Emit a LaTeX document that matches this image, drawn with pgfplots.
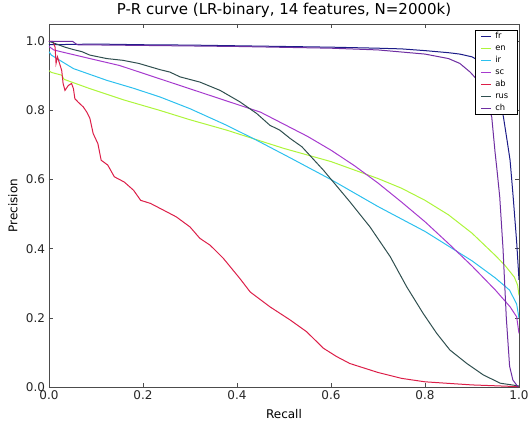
\documentclass[border=0pt]{standalone}
\usepackage{pgfplots}
\pgfplotsset{compat=1.18}
\usepackage{fontspec}
\setmainfont{DejaVu Sans}
\definecolor{cfr}{HTML}{1C1C88}
\definecolor{cen}{HTML}{ADF53A}
\definecolor{cir}{HTML}{2CC0EE}
\definecolor{csc}{HTML}{A63ACE}
\definecolor{cab}{HTML}{DC1E48}
\definecolor{crus}{HTML}{2F4F4F}
\definecolor{cch}{HTML}{6E2EA2}
\begin{document}
\begin{tikzpicture}
\useasboundingbox (-49pt,-37pt) rectangle (482pt,387pt);
\begin{axis}[
  at={(0pt,0pt)}, anchor=south west,
  scale only axis, width=470pt, height=363pt,
  xmin=0, xmax=1, ymin=0, ymax=1.05,
  xtick={0,0.2,0.4,0.6,0.8,1.0},
  ytick={0,0.2,0.4,0.6,0.8,1.0},
  tick align=inside, major tick length=4pt,
  tick style={color=black!70, line width=0.6pt},
  axis line style={black!70, line width=0.8pt},
  /pgf/number format/.cd, fixed, fixed zerofill, precision=1, assume math mode=true,
  /pgfplots/.cd,
  tick label style={font=\fontsize{12}{14}\selectfont, text=black!85},
  xticklabel style={yshift=-0.5pt},
  yticklabel style={xshift=-0.5pt},
  title={P-R curve (LR-binary, 14 features, N=2000k)},
  title style={font=\fontsize{15}{17}\selectfont, at={(axis description cs:0.5,1)}, anchor=base, yshift=3.5pt},
  xlabel={Recall}, ylabel={Precision},
  label style={font=\fontsize{12}{14}\selectfont},
  xlabel style={at={(axis description cs:0.5,0)}, anchor=center, yshift=-27pt},
  ylabel style={at={(axis description cs:-0.0766,0.5)}, anchor=center, rotate=0},
  legend style={at={(axis description cs:0.996,0.983)}, anchor=north east,
    font=\fontsize{8.33}{10}\selectfont, draw=black, line width=0.6pt, row sep=0pt,
    inner xsep=5pt, inner ysep=0pt,
    nodes={inner xsep=3.5pt, inner ysep=2pt, text height=6.2pt, text depth=1.8pt}},
  legend cell align=left,
  legend image code/.code={\draw[#1, line width=1pt] (0pt,0pt) -- (10pt,0pt);},
  every axis plot/.append style={line width=1pt},
]
% fr
\addplot[draw=cfr] coordinates {(0,0.99) (0.1,0.992) (0.2,0.99) (0.3,0.989) (0.4,0.987) (0.5,0.985) (0.6,0.983) (0.7,0.98) (0.75,0.978) (0.8,0.973) (0.85,0.967) (0.874,0.963) (0.9,0.955) (0.92,0.94) (0.94,0.91) (0.955,0.86) (0.967,0.78) (0.975,0.71) (0.981,0.656) (0.987,0.56) (0.991,0.49) (0.995,0.42) (1.0,0.31)};
\addlegendentry{fr}
% en
\addplot[draw=cen] coordinates {(0,0.915) (0.005,0.91) (0.027,0.902) (0.032,0.89) (0.087,0.863) (0.16,0.83) (0.236,0.80) (0.3,0.773) (0.378,0.743) (0.44,0.716) (0.5,0.69) (0.6,0.652) (0.7,0.603) (0.75,0.575) (0.8,0.54) (0.85,0.498) (0.9,0.445) (0.95,0.38) (0.97,0.352) (0.99,0.318) (0.997,0.295) (1.0,0.265)};
\addlegendentry{en}
% ir
\addplot[draw=cir] coordinates {(0,0.97) (0.005,0.96) (0.023,0.945) (0.052,0.921) (0.123,0.887) (0.18,0.864) (0.236,0.839) (0.3,0.805) (0.378,0.757) (0.44,0.715) (0.513,0.663) (0.6,0.60) (0.7,0.522) (0.8,0.45) (0.9,0.365) (0.95,0.315) (0.98,0.28) (0.995,0.24) (1.0,0.199)};
\addlegendentry{ir}
% sc
\addplot[draw=csc] coordinates {(0,0.985) (0.01,0.975) (0.028,0.969) (0.087,0.95) (0.15,0.93) (0.25,0.885) (0.35,0.84) (0.45,0.795) (0.5,0.76) (0.55,0.725) (0.6,0.685) (0.65,0.64) (0.7,0.59) (0.75,0.535) (0.8,0.478) (0.85,0.415) (0.9,0.35) (0.95,0.28) (0.981,0.232) (0.995,0.203) (1.0,0.155)};
\addlegendentry{sc}
% ab
\addplot[draw=cab] coordinates {(0,1.0) (0.008,1.0) (0.013,0.983) (0.015,0.936) (0.018,0.955) (0.027,0.916) (0.03,0.878) (0.034,0.858) (0.041,0.872) (0.048,0.878) (0.052,0.863) (0.055,0.834) (0.062,0.824) (0.073,0.81) (0.08,0.796) (0.087,0.777) (0.094,0.733) (0.104,0.704) (0.111,0.656) (0.125,0.642) (0.139,0.608) (0.16,0.593) (0.18,0.569) (0.195,0.54) (0.216,0.531) (0.25,0.507) (0.271,0.492) (0.3,0.463) (0.321,0.43) (0.343,0.41) (0.371,0.372) (0.406,0.314) (0.428,0.275) (0.47,0.232) (0.513,0.194) (0.548,0.16) (0.584,0.112) (0.612,0.088) (0.64,0.068) (0.7,0.042) (0.75,0.025) (0.8,0.015) (0.9,0.006) (1.0,0.001)};
\addlegendentry{ab}
% rus
\addplot[draw=crus] coordinates {(0,1.0) (0.01,0.995) (0.02,0.99) (0.034,0.983) (0.052,0.976) (0.07,0.97) (0.087,0.96) (0.105,0.955) (0.123,0.95) (0.157,0.945) (0.191,0.936) (0.236,0.918) (0.257,0.911) (0.279,0.897) (0.321,0.882) (0.364,0.858) (0.406,0.825) (0.442,0.791) (0.47,0.757) (0.491,0.743) (0.513,0.719) (0.538,0.695) (0.584,0.627) (0.64,0.536) (0.683,0.463) (0.726,0.377) (0.761,0.29) (0.796,0.213) (0.825,0.155) (0.853,0.107) (0.889,0.068) (0.924,0.035) (0.96,0.011) (1.0,0.003)};
\addlegendentry{rus}
% ch
\addplot[draw=cch] coordinates {(0,1.0) (0.05,1.0) (0.06,0.99) (0.2,0.988) (0.4,0.985) (0.6,0.98) (0.7,0.975) (0.8,0.963) (0.85,0.95) (0.874,0.936) (0.896,0.911) (0.91,0.89) (0.93,0.84) (0.942,0.781) (0.949,0.68) (0.953,0.63) (0.959,0.55) (0.966,0.40) (0.973,0.20) (0.98,0.06) (0.987,0.02) (0.998,0.0)};
\addlegendentry{ch}
\end{axis}
\end{tikzpicture}
\end{document}
